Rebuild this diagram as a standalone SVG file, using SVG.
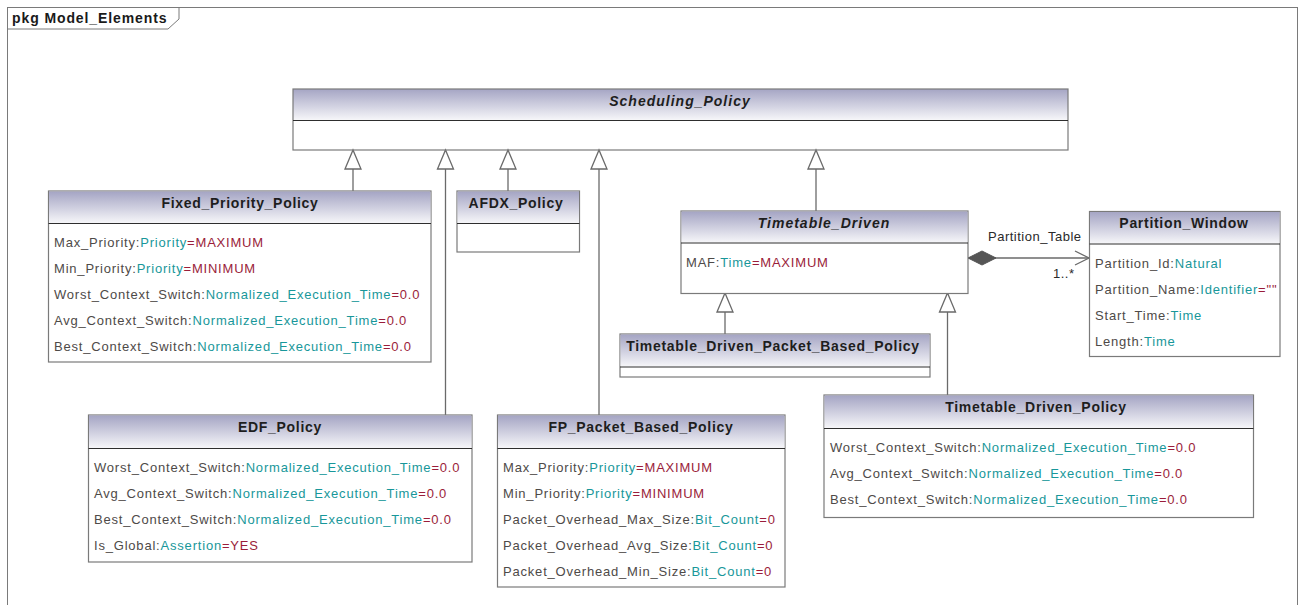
<svg xmlns="http://www.w3.org/2000/svg" width="1299" height="605" viewBox="0 0 1299 605">
  <style>
    .frame { fill: #ffffff; stroke: #7a7a7a; stroke-width: 1; }
    .box { fill: #ffffff; stroke: #7a7a7a; stroke-width: 1.2; }
    .head { fill: url(#hdr); stroke: none; }
    .div { stroke: #2e2e2e; stroke-width: 1.2; }
    .title { font-family: "Liberation Sans", Arial, sans-serif; font-size: 14px; font-weight: bold; fill: #1e1e1e; text-anchor: middle; letter-spacing: 0.7px; }
    .abstract { font-style: italic; letter-spacing: 1px; }
    .attr { font-family: "Liberation Sans", Arial, sans-serif; font-size: 13px; fill: #4e4a48; letter-spacing: 0.8px; }
    .ty { fill: #18979a; }
    .val { fill: #9a1d3a; }
    .lbl { font-family: "Liberation Sans", Arial, sans-serif; font-size: 13px; fill: #2a2a2a; letter-spacing: 0.5px; }
    .gen { fill: none; stroke: #6a6a6a; stroke-width: 1.3; marker-end: url(#hollow); }
    .assoc { fill: none; stroke: #6a6a6a; stroke-width: 1.3; marker-start: url(#diamond); marker-end: url(#open); }
  </style>
  <defs>
    <linearGradient id="hdr" x1="0" y1="0" x2="0" y2="1">
      <stop offset="0" stop-color="#a5a5c4"/>
      <stop offset="1" stop-color="#f6f6f9"/>
    </linearGradient>
    <marker id="hollow" markerUnits="userSpaceOnUse" markerWidth="22" markerHeight="20" viewBox="0 -10 22 20" refX="20" refY="0" orient="auto">
      <path d="M1,-8 L20,0 L1,8 Z" fill="#ffffff" stroke="#6a6a6a" stroke-width="1.3"/>
    </marker>
    <marker id="diamond" markerUnits="userSpaceOnUse" markerWidth="32" markerHeight="18" viewBox="0 -9 32 18" refX="1" refY="0" orient="auto">
      <path d="M1,0 L15,-7 L29,0 L15,7 Z" fill="#555555" stroke="#555555" stroke-width="1"/>
    </marker>
    <marker id="open" markerUnits="userSpaceOnUse" markerWidth="18" markerHeight="18" viewBox="0 -9 18 18" refX="15" refY="0" orient="auto">
      <path d="M1,-7 L15,0 L1,7" fill="none" stroke="#6a6a6a" stroke-width="1.3"/>
    </marker>
  </defs>

  <!-- package frame -->
  <g id="package-frame">
    <rect class="frame" x="7.5" y="7.5" width="1290" height="640"/>
    <path d="M7.5,29 L168,29 L179,19 L179,7.5" fill="none" stroke="#7a7a7a" stroke-width="1"/>
    <text x="12" y="23" font-family="Liberation Sans, Arial, sans-serif" font-size="14" font-weight="bold" letter-spacing="0.9" fill="#1a1a1a">pkg Model_Elements</text>
  </g>

  <!-- generalization and association connectors -->
  <g id="connectors">
    <path class="gen" d="M353,191 L353,150"/>
    <path class="gen" d="M445.5,415 L445.5,150"/>
    <path class="gen" d="M508,191 L508,150"/>
    <path class="gen" d="M599,415 L599,150"/>
    <path class="gen" d="M816,211 L816,150"/>
    <path class="gen" d="M725,334 L725,293"/>
    <path class="gen" d="M947.5,395 L947.5,293"/>
    <path class="assoc" d="M968,258 L1089,258"/>
    <text class="lbl" x="988" y="241">Partition_Table</text>
    <text class="lbl" x="1053" y="278">1..*</text>
  </g>

  <g id="Scheduling_Policy">
    <rect class="head" x="293" y="89" width="775" height="31"/>
    <rect class="box" x="293" y="89" width="775" height="61" style="fill:none"/>
    <line class="div" x1="293" y1="120.5" x2="1068" y2="120.5"/>
    <text class="title abstract" x="680" y="106">Scheduling_Policy</text>
  </g>

  <g id="Fixed_Priority_Policy">
    <rect class="box" x="48.5" y="191" width="382.5" height="171"/>
    <rect class="head" x="49" y="191.5" width="381.5" height="31.5"/>
    <line class="div" x1="48.5" y1="223.5" x2="431" y2="223.5"/>
    <text class="title" x="240" y="208">Fixed_Priority_Policy</text>
    <text class="attr" x="54" y="247">Max_Priority:<tspan class="ty">Priority</tspan><tspan class="val">=MAXIMUM</tspan></text>
    <text class="attr" x="54" y="273">Min_Priority:<tspan class="ty">Priority</tspan><tspan class="val">=MINIMUM</tspan></text>
    <text class="attr" x="54" y="299">Worst_Context_Switch:<tspan class="ty">Normalized_Execution_Time</tspan><tspan class="val">=0.0</tspan></text>
    <text class="attr" x="54" y="325">Avg_Context_Switch:<tspan class="ty">Normalized_Execution_Time</tspan><tspan class="val">=0.0</tspan></text>
    <text class="attr" x="54" y="351">Best_Context_Switch:<tspan class="ty">Normalized_Execution_Time</tspan><tspan class="val">=0.0</tspan></text>
  </g>

  <g id="AFDX_Policy">
    <rect class="box" x="457" y="191" width="122.5" height="61"/>
    <rect class="head" x="457.5" y="191.5" width="121.5" height="31.5"/>
    <line class="div" x1="457" y1="223.5" x2="579.5" y2="223.5"/>
    <text class="title" x="516" y="208">AFDX_Policy</text>
  </g>

  <g id="Timetable_Driven">
    <rect class="box" x="681" y="211" width="287" height="82.5"/>
    <rect class="head" x="681.5" y="211.5" width="286" height="31"/>
    <line class="div" x1="681" y1="243" x2="968" y2="243"/>
    <text class="title abstract" x="824" y="228">Timetable_Driven</text>
    <text class="attr" x="686" y="267">MAF:<tspan class="ty">Time</tspan><tspan class="val">=MAXIMUM</tspan></text>
  </g>

  <g id="Partition_Window">
    <rect class="box" x="1089.5" y="211.5" width="190.5" height="145"/>
    <rect class="head" x="1090" y="212" width="189.5" height="31.5"/>
    <line class="div" x1="1089.5" y1="244" x2="1280" y2="244"/>
    <text class="title" x="1184" y="228">Partition_Window</text>
    <text class="attr" x="1095" y="268">Partition_Id:<tspan class="ty">Natural</tspan></text>
    <text class="attr" x="1095" y="294">Partition_Name:<tspan class="ty">Identifier</tspan><tspan class="val">=""</tspan></text>
    <text class="attr" x="1095" y="320">Start_Time:<tspan class="ty">Time</tspan></text>
    <text class="attr" x="1095" y="346">Length:<tspan class="ty">Time</tspan></text>
  </g>

  <g id="Timetable_Driven_Packet_Based_Policy">
    <rect class="box" x="620" y="334" width="310" height="43"/>
    <rect class="head" x="620.5" y="334.5" width="309" height="32"/>
    <line class="div" x1="620" y1="367" x2="930" y2="367"/>
    <text class="title" x="773" y="351">Timetable_Driven_Packet_Based_Policy</text>
  </g>

  <g id="EDF_Policy">
    <rect class="box" x="88.5" y="415" width="383.5" height="147"/>
    <rect class="head" x="89" y="415.5" width="382.5" height="32.5"/>
    <line class="div" x1="88.5" y1="448.5" x2="472" y2="448.5"/>
    <text class="title" x="280" y="432">EDF_Policy</text>
    <text class="attr" x="94" y="472">Worst_Context_Switch:<tspan class="ty">Normalized_Execution_Time</tspan><tspan class="val">=0.0</tspan></text>
    <text class="attr" x="94" y="498">Avg_Context_Switch:<tspan class="ty">Normalized_Execution_Time</tspan><tspan class="val">=0.0</tspan></text>
    <text class="attr" x="94" y="524">Best_Context_Switch:<tspan class="ty">Normalized_Execution_Time</tspan><tspan class="val">=0.0</tspan></text>
    <text class="attr" x="94" y="550">Is_Global:<tspan class="ty">Assertion</tspan><tspan class="val">=YES</tspan></text>
  </g>

  <g id="FP_Packet_Based_Policy">
    <rect class="box" x="497.5" y="415" width="287.5" height="172"/>
    <rect class="head" x="498" y="415.5" width="286.5" height="32.5"/>
    <line class="div" x1="497.5" y1="448.5" x2="785" y2="448.5"/>
    <text class="title" x="641" y="432">FP_Packet_Based_Policy</text>
    <text class="attr" x="503" y="472">Max_Priority:<tspan class="ty">Priority</tspan><tspan class="val">=MAXIMUM</tspan></text>
    <text class="attr" x="503" y="498">Min_Priority:<tspan class="ty">Priority</tspan><tspan class="val">=MINIMUM</tspan></text>
    <text class="attr" x="503" y="524">Packet_Overhead_Max_Size:<tspan class="ty">Bit_Count</tspan><tspan class="val">=0</tspan></text>
    <text class="attr" x="503" y="550">Packet_Overhead_Avg_Size:<tspan class="ty">Bit_Count</tspan><tspan class="val">=0</tspan></text>
    <text class="attr" x="503" y="576">Packet_Overhead_Min_Size:<tspan class="ty">Bit_Count</tspan><tspan class="val">=0</tspan></text>
  </g>

  <g id="Timetable_Driven_Policy">
    <rect class="box" x="824" y="395" width="429.5" height="122.5"/>
    <rect class="head" x="824.5" y="395.5" width="428.5" height="32.5"/>
    <line class="div" x1="824" y1="428.5" x2="1253.5" y2="428.5"/>
    <text class="title" x="1036" y="412">Timetable_Driven_Policy</text>
    <text class="attr" x="830" y="452">Worst_Context_Switch:<tspan class="ty">Normalized_Execution_Time</tspan><tspan class="val">=0.0</tspan></text>
    <text class="attr" x="830" y="478">Avg_Context_Switch:<tspan class="ty">Normalized_Execution_Time</tspan><tspan class="val">=0.0</tspan></text>
    <text class="attr" x="830" y="504">Best_Context_Switch:<tspan class="ty">Normalized_Execution_Time</tspan><tspan class="val">=0.0</tspan></text>
  </g>
</svg>
